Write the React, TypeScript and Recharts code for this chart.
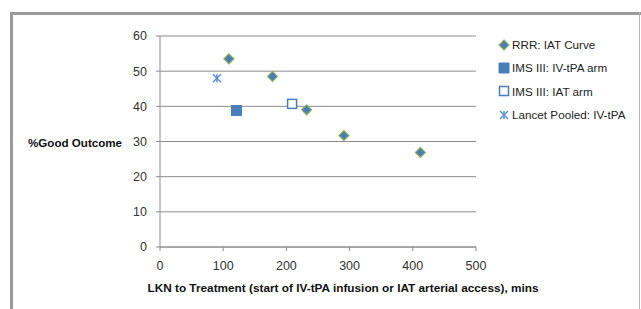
import React from 'react';
import { ScatterChart, Scatter, XAxis, YAxis, CartesianGrid, Legend } from 'recharts';

const rrrCurve = [
  { x: 109, y: 53.5 },
  { x: 178, y: 48.5 },
  { x: 232, y: 39 },
  { x: 291, y: 31.7 },
  { x: 412, y: 26.9 },
];
const imsIvTpa = [{ x: 121, y: 38.8 }];
const imsIat = [{ x: 209, y: 40.7 }];
const lancetPooled = [{ x: 90, y: 48 }];

const xTicks = [0, 100, 200, 300, 400, 500];
const yTicks = [0, 10, 20, 30, 40, 50, 60];

const seriesNames = ['RRR: IAT Curve', 'IMS III: IV-tPA arm', 'IMS III: IAT arm', 'Lancet Pooled: IV-tPA'];
const seriesKinds = ['diamond', 'square', 'openSquare', 'asterisk'];

const BLUE = '#4A7EBB';
const GREEN = '#8DB255';
const LIGHTBLUE = '#5B8FD0';
const FONT = 'Liberation Sans, Arial, sans-serif';

const Marker = ({ kind, cx, cy }: { kind: string; cx: number; cy: number }) => {
  if (kind === 'diamond') {
    const r = 5;
    return (
      <path
        d={`M${cx},${cy - r}L${cx + r},${cy}L${cx},${cy + r}L${cx - r},${cy}Z`}
        fill={BLUE}
        stroke={GREEN}
        strokeWidth={1.2}
      />
    );
  }
  if (kind === 'square') {
    return <rect x={cx - 5} y={cy - 5} width={10} height={10} fill={BLUE} stroke={BLUE} strokeWidth={1} />;
  }
  if (kind === 'openSquare') {
    return <rect x={cx - 4.5} y={cy - 4.5} width={9} height={9} fill="#fff" stroke={BLUE} strokeWidth={1.5} />;
  }
  const r = 4;
  return (
    <g stroke={LIGHTBLUE} strokeWidth={1.5}>
      <line x1={cx - r} y1={cy - r} x2={cx + r} y2={cy + r} />
      <line x1={cx - r} y1={cy + r} x2={cx + r} y2={cy - r} />
      <line x1={cx} y1={cy - r} x2={cx} y2={cy + r} />
    </g>
  );
};

const shapeFor = (kind: string) => (props: any) => <Marker kind={kind} cx={props.cx} cy={props.cy} />;

const LegendContent = () => (
  <div style={{ fontFamily: FONT, fontSize: 11.7, color: '#222' }}>
    {seriesNames.map((name, i) => (
      <div key={name} style={{ display: 'flex', alignItems: 'center', height: 23.3 }}>
        <svg width={12} height={12} style={{ marginRight: 2 }}>
          <Marker kind={seriesKinds[i]} cx={6} cy={6} />
        </svg>
        <span style={{ whiteSpace: 'nowrap' }}>{name}</span>
      </div>
    ))}
  </div>
);

export default function App() {
  return (
    <div style={{ position: 'absolute', left: 0, top: 0, width: 641, height: 309, background: '#fff', overflow: 'hidden' }}>
      <div style={{ position: 'absolute', left: 10, top: 12, width: 640, height: 3, background: '#9a9a9a' }} />
      <div style={{ position: 'absolute', left: 10, top: 12, width: 3, height: 300, background: '#9a9a9a' }} />
      <div style={{ position: 'absolute', left: 639, top: 12, width: 1, height: 300, background: '#b5b5b5' }} />
      <ScatterChart
        width={641}
        height={309}
        margin={{ top: 36, right: 165, bottom: 32, left: 0 }}
        style={{ position: 'absolute', left: 0, top: 0 }}
      >
        <CartesianGrid horizontal vertical={false} stroke="#8c8c8c" strokeWidth={1} />
        <XAxis
          type="number"
          dataKey="x"
          domain={[0, 500]}
          ticks={xTicks}
          stroke="#8c8c8c"
          tickSize={4}
          tickMargin={10}
          tick={{ fill: '#333', fontSize: 12.5, fontFamily: FONT }}
          label={{
            value: 'LKN to Treatment (start of IV-tPA infusion or IAT arterial access), mins',
            position: 'bottom',
            offset: 7,
            dx: 25,
            style: { fontFamily: FONT, fontWeight: 'bold', fontSize: 11.8, fill: '#111' },
          }}
        />
        <YAxis
          type="number"
          dataKey="y"
          domain={[0, 60]}
          ticks={yTicks}
          width={160}
          stroke="#8c8c8c"
          tickSize={4}
          tickMargin={9}
          tick={{ fill: '#333', fontSize: 12.5, fontFamily: FONT }}
          label={{
            value: '%Good Outcome',
            position: 'insideLeft',
            offset: 28,
            dy: 1.5,
            style: { fontFamily: FONT, fontWeight: 'bold', fontSize: 11.6, fill: '#111', textAnchor: 'start' },
          }}
        />
        <Legend
          layout="vertical"
          align="center"
          verticalAlign="middle"
          wrapperStyle={{ left: 498, top: 33, width: 142 }}
          content={() => <LegendContent />}
        />
        <Scatter name={seriesNames[0]} data={rrrCurve} shape={shapeFor('diamond')} isAnimationActive={false} />
        <Scatter name={seriesNames[1]} data={imsIvTpa} shape={shapeFor('square')} isAnimationActive={false} />
        <Scatter name={seriesNames[2]} data={imsIat} shape={shapeFor('openSquare')} isAnimationActive={false} />
        <Scatter name={seriesNames[3]} data={lancetPooled} shape={shapeFor('asterisk')} isAnimationActive={false} />
      </ScatterChart>
    </div>
  );
}
